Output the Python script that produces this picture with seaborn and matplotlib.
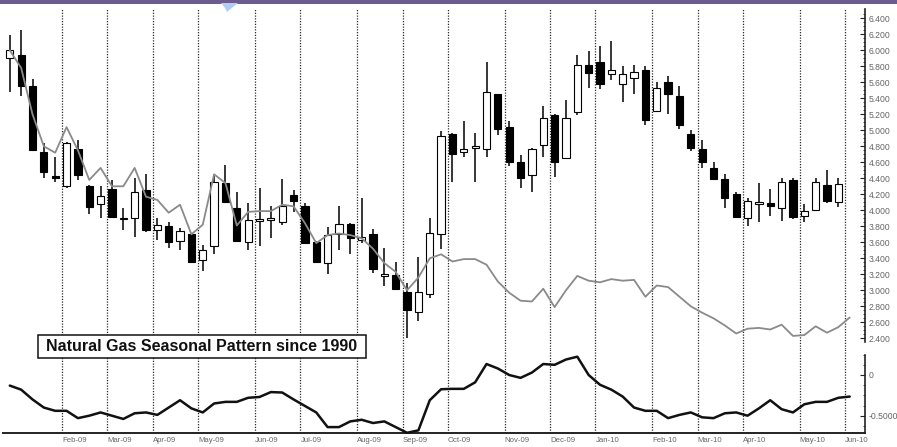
import numpy as np
import pandas as pd
import matplotlib
matplotlib.use("Agg")
import matplotlib.pyplot as plt
import seaborn as sns
from matplotlib.patches import Rectangle, Polygon
from matplotlib.ticker import FixedLocator, FuncFormatter

# ---------------- data ----------------
first_week = "2009-01-02"   # weekly bars (Fridays)
opens = [5.91, 5.94, 5.55, 4.73, 4.42, 4.30, 4.77, 4.30, 4.08, 4.27,
         3.89, 3.90, 4.25, 3.75, 3.80, 3.62, 3.70, 3.38, 3.55, 4.34,
         4.03, 3.60, 3.87, 3.88, 3.85, 4.19, 4.05, 3.61, 3.34, 3.70,
         3.83, 3.63, 3.70, 3.18, 3.19, 2.98, 2.73, 2.96, 3.71, 4.95,
         4.73, 4.78, 4.77, 5.45, 5.04, 4.61, 4.44, 4.82, 5.19, 4.65,
         5.23, 5.82, 5.85, 5.70, 5.58, 5.65, 5.75, 5.24, 5.60, 5.43,
         4.96, 4.77, 4.53, 4.39, 4.21, 3.91, 4.08, 4.09, 4.03, 4.38,
         3.93, 4.01, 4.32, 4.11]
highs = [6.19, 6.25, 5.64, 4.84, 4.67, 4.85, 4.88, 4.32, 4.30, 4.38,
         4.03, 4.41, 4.46, 3.90, 3.85, 3.78, 3.71, 3.57, 4.44, 4.57,
         4.23, 4.09, 4.28, 4.05, 4.39, 4.25, 4.09, 3.62, 3.79, 4.05,
         3.84, 4.16, 3.77, 3.53, 3.36, 3.09, 3.42, 3.90, 4.99, 4.97,
         5.12, 4.97, 5.86, 5.46, 5.12, 4.69, 4.78, 5.30, 5.20, 5.38,
         5.94, 5.99, 6.05, 6.12, 5.81, 5.82, 5.80, 5.61, 5.68, 5.56,
         5.00, 4.88, 4.61, 4.45, 4.23, 4.16, 4.34, 4.27, 4.41, 4.41,
         4.08, 4.41, 4.50, 4.40]
lows = [5.48, 5.43, 4.74, 4.40, 4.36, 4.28, 4.38, 3.95, 3.91, 3.91,
        3.75, 3.67, 3.73, 3.63, 3.53, 3.50, 3.35, 3.24, 3.46, 4.09,
        3.60, 3.50, 3.55, 3.66, 3.82, 3.98, 3.59, 3.34, 3.21, 3.51,
        3.45, 3.59, 3.22, 3.05, 3.00, 2.40, 2.62, 2.90, 3.52, 4.36,
        4.67, 4.35, 4.67, 4.94, 4.55, 4.28, 4.23, 4.67, 4.42, 4.64,
        5.19, 5.53, 5.52, 5.63, 5.36, 5.45, 5.07, 5.23, 5.20, 5.02,
        4.74, 4.53, 4.38, 4.03, 3.91, 3.80, 3.85, 3.93, 3.87, 3.89,
        3.85, 4.00, 4.09, 4.04]
closes = [6.00, 5.55, 4.76, 4.48, 4.41, 4.84, 4.44, 4.04, 4.18, 3.92,
          3.91, 4.23, 3.75, 3.82, 3.61, 3.74, 3.36, 3.50, 4.36, 4.10,
          3.62, 3.88, 3.88, 3.89, 4.06, 4.12, 3.59, 3.35, 3.69, 3.83,
          3.66, 3.67, 3.27, 3.21, 3.02, 2.75, 2.98, 3.72, 4.93, 4.71,
          4.77, 4.79, 5.48, 5.02, 4.60, 4.40, 4.77, 5.16, 4.60, 5.15,
          5.82, 5.72, 5.58, 5.76, 5.70, 5.73, 5.13, 5.53, 5.45, 5.07,
          4.78, 4.61, 4.39, 4.15, 3.92, 4.12, 4.09, 4.06, 4.35, 3.92,
          3.99, 4.35, 4.12, 4.33]

# seasonal pattern (grey line, price scale) - one value per week
seasonal = [6.00, 5.78, 5.20, 4.80, 4.72, 5.04, 4.75, 4.38, 4.53, 4.30,
            4.30, 4.53, 4.17, 4.13, 3.97, 4.07, 3.70, 3.82, 4.45, 4.34,
            3.81, 3.98, 3.99, 3.99, 4.07, 4.05, 3.84, 3.59, 3.69, 3.71,
            3.69, 3.65, 3.52, 3.34, 3.23, 3.00, 3.16, 3.40, 3.45, 3.36,
            3.39, 3.39, 3.32, 3.11, 2.97, 2.87, 2.86, 3.02, 2.79, 3.00,
            3.18, 3.12, 3.10, 3.14, 3.12, 3.13, 2.92, 3.06, 3.04, 2.92,
            2.80, 2.72, 2.65, 2.56, 2.46, 2.52, 2.53, 2.51, 2.57, 2.43,
            2.44, 2.55, 2.47, 2.54, 2.66]

# lower panel oscillator
lower = [-0.13, -0.18, -0.30, -0.40, -0.44, -0.44, -0.53, -0.50, -0.46, -0.50,
         -0.54, -0.47, -0.46, -0.49, -0.40, -0.31, -0.41, -0.46, -0.35, -0.33,
         -0.33, -0.28, -0.27, -0.21, -0.215, -0.30, -0.38, -0.46, -0.64, -0.64,
         -0.57, -0.55, -0.59, -0.57, -0.64, -0.71, -0.68, -0.31, -0.175, -0.17,
         -0.17, -0.09, 0.135, 0.08, 0.00, -0.035, 0.03, 0.135, 0.125, 0.19,
         0.225, 0.00, -0.12, -0.18, -0.265, -0.40, -0.44, -0.44, -0.53, -0.49,
         -0.46, -0.52, -0.53, -0.47, -0.46, -0.50, -0.41, -0.31, -0.42, -0.46,
         -0.36, -0.33, -0.33, -0.28, -0.265]

month_starts = ["2009-02-01", "2009-03-01", "2009-04-01", "2009-05-01", "2009-06-01",
                "2009-07-01", "2009-08-01", "2009-09-01", "2009-10-01", "2009-11-01",
                "2009-12-01", "2010-01-01", "2010-02-01", "2010-03-01", "2010-04-01",
                "2010-05-01", "2010-06-01"]
month_labels = ["Feb-09", "Mar-09", "Apr-09", "May-09", "Jun-09", "Jul-09", "Aug-09",
                "Sep-09", "Oct-09", "Nov-09", "Dec-09", "Jan-10", "Feb-10", "Mar-10",
                "Apr-10", "May-10", "Jun-10"]

# ---------------- figure ----------------
sns.set_theme(style="white")
plt.rcParams["font.family"] = ["Liberation Sans", "DejaVu Sans"]

W, H = 897, 447
fig = plt.figure(figsize=(W / 100, H / 100), dpi=100)
fig.patch.set_facecolor("white")

def fx(px):
    return px / W

def fy(py):
    return 1 - py / H

ax_left, ax_right = 3, 865
ax1 = fig.add_axes([fx(ax_left), fy(349), fx(ax_right - ax_left), (349 - 9) / H])
ax2 = fig.add_axes([fx(ax_left), fy(433), fx(ax_right - ax_left), (433 - 349) / H])

n = len(opens)
weeks = pd.date_range(first_week, periods=n, freq="W-FRI")
x = np.arange(n)
xs = np.arange(len(seasonal))

# month boundaries in week-index units
mpos = [weeks.searchsorted(pd.Timestamp(m)) - 0.4 for m in month_starts]

x0 = (ax_left - 9.8) / 11.35
x1 = (ax_right - 9.8) / 11.35

# price-scale mapping: 6.4 at y=18.3 px, 80 px per 1.0
p_top = 6.4 + (18.3 - 9) / 80
p_bot = 6.4 - (349 - 18.3) / 80
# lower scale: 0 at y=375, 81.4 px per unit
l_top = -(349 - 375) / 81.4
l_bot = -(433 - 375) / 81.4

for ax in (ax1, ax2):
    ax.set_facecolor("white")
    ax.set_xlim(x0, x1)
    for m in mpos:
        ax.axvline(m, color="#2a2a2a", lw=0.9, ls=(0, (1.0, 1.2)), zorder=1)
    for s in ("left", "top"):
        ax.spines[s].set_visible(False)
    ax.spines["right"].set_color("#222222")
    ax.spines["right"].set_linewidth(1.2)

ax1.set_ylim(p_bot, p_top)
ax2.set_ylim(l_bot, l_top)

# candles
o = np.array(opens); c = np.array(closes)
up = c >= o
ax1.vlines(x, lows, highs, color="black", lw=1.1, zorder=3)
bottoms = np.minimum(o, c)
heights = np.maximum(np.abs(c - o), 0.02)
ax1.bar(x[up], heights[up], bottom=bottoms[up], width=0.64,
        color="white", edgecolor="black", linewidth=0.8, zorder=4)
ax1.bar(x[~up], heights[~up], bottom=bottoms[~up], width=0.64,
        color="black", edgecolor="black", linewidth=0.8, zorder=4)

sns.lineplot(x=xs, y=seasonal, ax=ax1, color="#8a8a8a", lw=1.3, zorder=5)
sns.lineplot(x=xs, y=lower, ax=ax2, color="#111111", lw=1.8, zorder=5, clip_on=False)

# upper axis styling
ax1.spines["bottom"].set_visible(False)
ax1.spines["right"].set_bounds(6.4 - (342 - 18.3) / 80, p_top)
ax1.yaxis.set_major_locator(FixedLocator(np.round(np.arange(2.4, 6.41, 0.2), 2)))
ax1.yaxis.set_minor_locator(FixedLocator(np.round(np.arange(2.4, 6.5, 0.05), 3)))
ax1.yaxis.set_major_formatter(FuncFormatter(lambda v, p: f"{v:.3f}"))
ax1.yaxis.tick_right()
ax1.tick_params(axis="y", which="both", direction="in", right=True, left=False,
                labelright=True, labelleft=False, pad=2.5, labelsize=6.2,
                labelcolor="#666666", color="#222222")
ax1.tick_params(axis="y", which="major", length=3.5, width=0.8)
ax1.tick_params(axis="y", which="minor", length=1.8, width=0.6)
ax1.set_xticks([])
ax1.set_xlabel(""); ax1.set_ylabel("")

# lower axis styling
ax2.spines["right"].set_bounds(l_bot, -(355 - 375) / 81.4)
ax2.spines["bottom"].set_color("#222222")
ax2.spines["bottom"].set_linewidth(1.4)
ax2.yaxis.set_major_locator(FixedLocator([-0.5, 0.0]))
ax2.yaxis.set_minor_locator(FixedLocator([-0.625, -0.375, -0.25, -0.125, 0.125, 0.24]))
ax2.yaxis.set_major_formatter(FuncFormatter(lambda v, p: "0" if abs(v) < 1e-9 else f"{v:.4f}"))
ax2.yaxis.tick_right()
ax2.tick_params(axis="y", which="both", direction="in", right=True, left=False,
                labelright=True, labelleft=False, pad=2.5, labelsize=6.2,
                labelcolor="#666666", color="#222222")
ax2.tick_params(axis="y", which="major", length=3.5, width=0.8)
ax2.tick_params(axis="y", which="minor", length=1.8, width=0.6)
ax2.set_xticks(mpos)
ax2.set_xticklabels(month_labels)
for lab in ax2.get_xticklabels():
    lab.set_horizontalalignment("left")
ax2.tick_params(axis="x", length=0, pad=3.2, labelsize=5.6, labelcolor="#666666")
ax2.set_xlabel(""); ax2.set_ylabel("")

# title box
fig.add_artist(Rectangle((fx(38), fy(358)), fx(366 - 38), (358 - 335) / H,
                         transform=fig.transFigure, facecolor="white",
                         edgecolor="#111111", lw=1.1, zorder=10))
fig.text(fx(202), fy(346.5), "Natural Gas Seasonal Pattern since 1990",
         ha="center", va="center", fontsize=11.5, fontweight="bold",
         color="#111111", zorder=11)

# top banner decoration
fig.add_artist(Rectangle((0, fy(4)), 1, 4 / H, transform=fig.transFigure,
                         facecolor="#6b5b8f", edgecolor="none", zorder=10))
fig.add_artist(Polygon([(fx(221), fy(3)), (fx(238), fy(3)), (fx(233), fy(7)),
                        (fx(227), fy(12)), (fx(225), fy(8))],
                       closed=True, transform=fig.transFigure,
                       facecolor="#b3ccf2", edgecolor="none", zorder=11))

fig.savefig("out.png", dpi=100)
